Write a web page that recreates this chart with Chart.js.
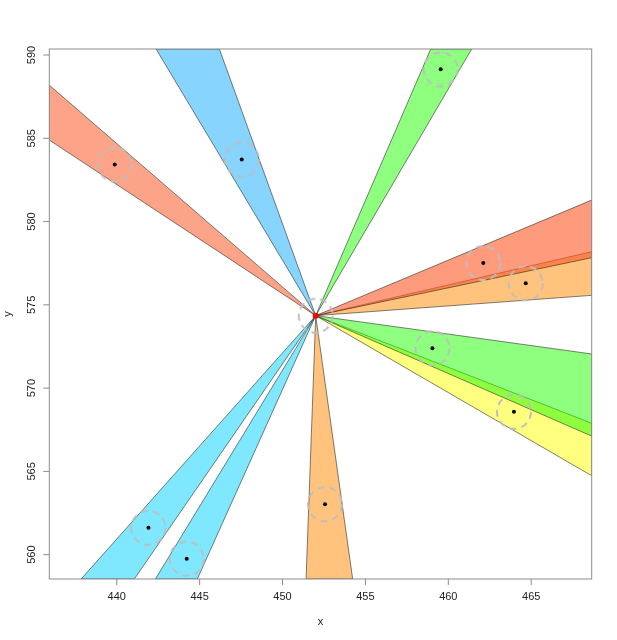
<!DOCTYPE html>
<html>
<head>
<meta charset="utf-8">
<title>Wedges</title>
<script src="https://cdn.jsdelivr.net/npm/chart.js@4.4.1/dist/chart.umd.min.js"></script>
<style>
  html, body { margin: 0; padding: 0; background: #fff; }
  #chart { display: block; }
</style>
</head>
<body>
<canvas id="chart" width="617" height="640"></canvas>
<script>
// Axis ranges and ticks
const xRange = [435.93, 468.65];
const yRange = [558.54, 590.36];
const xTicks = [440, 445, 450, 455, 460, 465];
const yTicks = [560, 565, 570, 575, 580, 585, 590];

// Observed points (the first one is the centre)
const pointX = [452.00, 439.88, 447.54, 459.54, 462.11, 464.67, 459.04, 463.96, 452.56, 441.91, 444.22];
const pointY = [574.35, 583.43, 583.73, 589.14, 577.51, 576.29, 572.39, 568.58, 563.03, 561.62, 559.76];

// Wedges: apex at the centre, far edge where they leave the plot
const wedgeAX = [435.93, 442.37, 458.94, 468.65, 468.65, 468.65, 468.65, 451.42, 437.85, 442.33];
const wedgeAY = [588.19, 590.36, 590.36, 578.19, 581.29, 567.89, 572.05, 558.54, 558.54, 558.54];
const wedgeBX = [435.93, 446.19, 461.41, 468.65, 468.65, 468.65, 468.65, 454.23, 441.06, 444.86];
const wedgeBY = [584.89, 590.36, 590.36, 575.57, 577.83, 564.74, 567.12, 558.54, 558.54, 558.54];
const wedgeColors = [
    'rgba(250, 88, 38, 0.55)',
    'rgba(15, 170, 255, 0.5)',
    'rgba(30, 255, 0, 0.5)',
    'rgba(255, 155, 38, 0.6)',
    'rgba(255, 88, 38, 0.6)',
    'rgba(255, 255, 0, 0.5)',
    'rgba(30, 255, 0, 0.5)',
    'rgba(255, 155, 38, 0.6)',
    'rgba(0, 210, 255, 0.5)',
    'rgba(0, 210, 255, 0.5)'
];

const fontFamily = '"Liberation Sans", Arial, sans-serif';

// Dashed grey circle used as point style
function makeDashedCircle(r) {
    const c = document.createElement('canvas');
    c.width = c.height = r * 2 + 4;
    const g = c.getContext('2d');
    g.strokeStyle = '#bebebe';
    g.lineWidth = 2;
    g.setLineDash([7, 5]);
    g.beginPath();
    g.arc(r + 2, r + 2, r, 0, Math.PI * 2);
    g.stroke();
    return c;
}

// Wedges drawn under the points, through the chart scales
const wedgePlugin = {
    id: 'wedges',
    beforeDatasetsDraw(chart) {
        const { ctx, chartArea, scales } = chart;
        const cx = scales.x.getPixelForValue(pointX[0]);
        const cy = scales.y.getPixelForValue(pointY[0]);
        ctx.save();
        ctx.beginPath();
        ctx.rect(chartArea.left, chartArea.top, chartArea.right - chartArea.left, chartArea.bottom - chartArea.top);
        ctx.clip();
        for (let i = 0; i < wedgeAX.length; i++) {
            ctx.beginPath();
            ctx.moveTo(cx, cy);
            ctx.lineTo(scales.x.getPixelForValue(wedgeAX[i]), scales.y.getPixelForValue(wedgeAY[i]));
            ctx.lineTo(scales.x.getPixelForValue(wedgeBX[i]), scales.y.getPixelForValue(wedgeBY[i]));
            ctx.closePath();
            ctx.fillStyle = wedgeColors[i];
            ctx.fill();
            ctx.strokeStyle = 'rgba(30, 30, 30, 0.8)';
            ctx.lineWidth = 0.7;
            ctx.stroke();
        }
        ctx.restore();
    }
};

// Box, ticks and labels in R style
const axesPlugin = {
    id: 'rAxes',
    afterDraw(chart) {
        const { ctx, chartArea, scales } = chart;
        const { left, right, top, bottom } = chartArea;
        ctx.save();
        ctx.strokeStyle = '#8c8c8c';
        ctx.lineWidth = 1;
        ctx.strokeRect(left, top, right - left, bottom - top);

        ctx.fillStyle = '#222';
        ctx.font = '11px ' + fontFamily;
        ctx.textAlign = 'center';
        ctx.textBaseline = 'middle';
        xTicks.forEach(v => {
            const px = scales.x.getPixelForValue(v);
            ctx.beginPath();
            ctx.moveTo(px, bottom);
            ctx.lineTo(px, bottom + 6);
            ctx.stroke();
            ctx.fillText(String(v), px, 597);
        });
        yTicks.forEach(v => {
            const py = scales.y.getPixelForValue(v);
            ctx.beginPath();
            ctx.moveTo(left, py);
            ctx.lineTo(left - 6, py);
            ctx.stroke();
            ctx.save();
            ctx.translate(32, py);
            ctx.rotate(-Math.PI / 2);
            ctx.fillText(String(v), 0, 0);
            ctx.restore();
        });

        // Axis titles
        ctx.fillText('x', (left + right) / 2, 622);
        ctx.save();
        ctx.translate(8, (top + bottom) / 2);
        ctx.rotate(-Math.PI / 2);
        ctx.fillText('y', 0, 0);
        ctx.restore();
        ctx.restore();
    }
};

const xy = (xs, ys) => xs.map((x, i) => ({ x: x, y: ys[i] }));

new Chart(document.getElementById('chart'), {
    type: 'scatter',
    data: {
        datasets: [
            {
                label: 'circles',
                data: xy(pointX, pointY),
                pointStyle: makeDashedCircle(17),
                pointRadius: 17
            },
            {
                label: 'points',
                data: xy(pointX.slice(1), pointY.slice(1)),
                pointRadius: 2,
                pointBackgroundColor: '#000',
                pointBorderWidth: 0
            },
            {
                label: 'centre',
                data: xy(pointX.slice(0, 1), pointY.slice(0, 1)),
                pointRadius: 3,
                pointBackgroundColor: '#ff0000',
                pointBorderWidth: 0
            }
        ]
    },
    options: {
        responsive: false,
        animation: false,
        layout: { padding: { left: 49.3, top: 49, right: 25.3, bottom: 61 } },
        scales: {
            x: { type: 'linear', min: xRange[0], max: xRange[1], display: false },
            y: { type: 'linear', min: yRange[0], max: yRange[1], display: false }
        },
        plugins: {
            legend: { display: false },
            tooltip: { enabled: false }
        }
    },
    plugins: [wedgePlugin, axesPlugin]
});
</script>
</body>
</html>
